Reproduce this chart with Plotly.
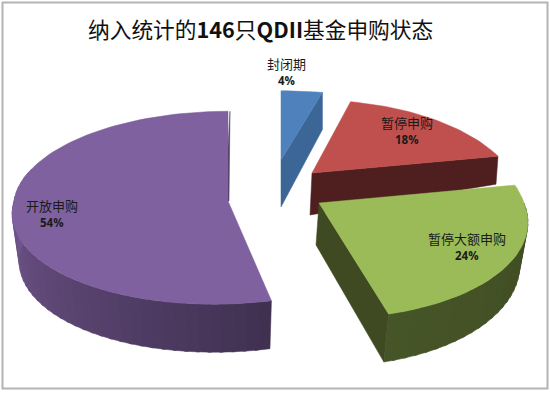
import math
import plotly.graph_objects as go

TITLE = "纳入统计的<b>146</b>只<b>QDII</b>基金申购状态"
categories = ["封闭期", "暂停申购", "暂停大额申购", "开放申购"]
values = [4, 18, 24, 54]

top_colors = ["#4f81bd", "#c0504d", "#9bbb59", "#7f619f"]
side_radial = ["#3b6696", "#4f1f20", "#3f4a23", "#3f3050"]
side_arc_from = ["#3b6696", "#4f1f20", "#404c24", "#3f3050"]
side_arc_to = ["#3b6696", "#4f1f20", "#465527", "#7a5c98"]

# projection of each exploded slice: apex, radii, perspective, wall
apex_x = [281, 312, 319, 228]
apex_y = [160, 173, 203, 201]
rad_x = [215, 200, 205, 214]
rad_y = [90, 95, 98, 96]
persp = [0.3, 0.3, 0.15, 0.07]
skew_front = [0, 0, 0.09, -0.137]
wall_h = [47, 42, 42, 48]
wall_hx = [-0.24, -0.075, 0, 0]
wall_hy = [0, 0, 0.054, 0]
wall_dx = [0, -2, -3, 0]
wall_fx = [1, 1, 0.975, 0.967]
label_x = [286, 407, 467, 52]
label_y = [63, 122, 238, 205]


def hex_mix(a, b, t):
    pa = [int(a[i:i + 2], 16) for i in (1, 3, 5)]
    pb = [int(b[i:i + 2], 16) for i in (1, 3, 5)]
    return "#%02x%02x%02x" % tuple(round(p + (q - p) * t) for p, q in zip(pa, pb))


def offset(i, deg):
    t = math.radians(deg)
    s = 1 / (1 + persp[i] * math.cos(t))
    ox = rad_x[i] * math.sin(t) * s
    oy = -rad_y[i] * math.cos(t) * s
    return ox + skew_front[i] * max(oy, 0), oy


def top_pt(i, deg):
    ox, oy = offset(i, deg)
    return apex_x[i] + ox, apex_y[i] + oy


def bottom_pt(i, ox, oy):
    return (apex_x[i] + wall_dx[i] + wall_fx[i] * ox,
            apex_y[i] + oy + wall_h[i] + wall_hx[i] * ox + wall_hy[i] * oy)


def poly(xs, ys, color):
    return go.Scatter(x=xs + xs[:1], y=ys + ys[:1], mode="lines", fill="toself",
                      fillcolor=color, line=dict(color=color, width=0.5),
                      hoverinfo="skip", showlegend=False)


fig = go.Figure()
total = sum(values)
starts = [sum(values[:i]) / total * 360 for i in range(len(values))]
ends = [sum(values[:i + 1]) / total * 360 for i in range(len(values))]

for i in range(len(values)):
    a0, a1 = starts[i], ends[i]
    lo, hi = (a0, a1) if i < 2 else (max(a0, 90), min(a1, 290))
    if i >= 2:
        n = max(2, int((hi - lo) / 3))
        for k in range(n):
            d0 = lo + (hi - lo) * k / n
            d1 = min(lo + (hi - lo) * (k + 1.3) / n, hi)
            seg = [d0 + (d1 - d0) * j / 3 for j in range(4)]
            xs, ys = [], []
            low = []
            for d in seg:
                ox, oy = offset(i, d)
                xs.append(apex_x[i] + ox)
                ys.append(apex_y[i] + oy)
                low.append(bottom_pt(i, ox, oy))
            xs += [p[0] for p in reversed(low)]
            ys += [p[1] for p in reversed(low)]
            t = ((d0 + d1) / 2 - lo) / (hi - lo)
            fig.add_trace(poly(xs, ys, hex_mix(side_arc_from[i], side_arc_to[i], t)))
    if i < 3:
        ox, oy = offset(i, a1)
        b0 = bottom_pt(i, 0, 0)
        b1 = bottom_pt(i, ox, oy)
        fig.add_trace(poly([apex_x[i], apex_x[i] + ox, b1[0], b0[0]],
                           [apex_y[i], apex_y[i] + oy, b1[1], b0[1]], side_radial[i]))
    else:
        ox, oy = offset(i, a1)
        fig.add_trace(poly([apex_x[i] - 3, apex_x[i] + ox + 2, apex_x[i] + 1],
                           [apex_y[i], apex_y[i] + oy, apex_y[i]], "#4a3a66"))
    n = max(6, int((a1 - a0) / 2))
    pts = [top_pt(i, a0 + (a1 - a0) * j / n) for j in range(n + 1)]
    fig.add_trace(poly([apex_x[i]] + [p[0] for p in pts],
                       [apex_y[i]] + [p[1] for p in pts], top_colors[i]))

CJK = "Noto Sans CJK SC"
annotations = [dict(x=260.5, y=28, text=TITLE, showarrow=False,
                    font=dict(family=CJK, size=21.7, color="#111111"))]
for i, c in enumerate(categories):
    annotations.append(dict(x=label_x[i], y=label_y[i], text=c, showarrow=False,
                            font=dict(family=CJK, size=13, color="#1a1a1a")))
    annotations.append(dict(x=label_x[i], y=label_y[i] + 17.5, text=f"<b>{values[i]}%</b>",
                            showarrow=False,
                            font=dict(family="Open Sans", size=11.5, color="#1a1a1a")))

fig.update_layout(
    width=550, height=393, margin=dict(l=0, r=0, t=0, b=0),
    paper_bgcolor="white", plot_bgcolor="white",
    xaxis=dict(range=[0, 550], visible=False, fixedrange=True),
    yaxis=dict(range=[393, 0], visible=False, fixedrange=True),
    annotations=annotations,
    shapes=[dict(type="rect", x0=2.5, y0=2.5, x1=547.5, y1=388.5,
                 line=dict(color="#b4b4b4", width=2), layer="below")],
)
fig.write_html("out.html", config=dict(displayModeBar=False),
               post_script="document.body.style.margin='0';document.documentElement.style.overflow='hidden';")
